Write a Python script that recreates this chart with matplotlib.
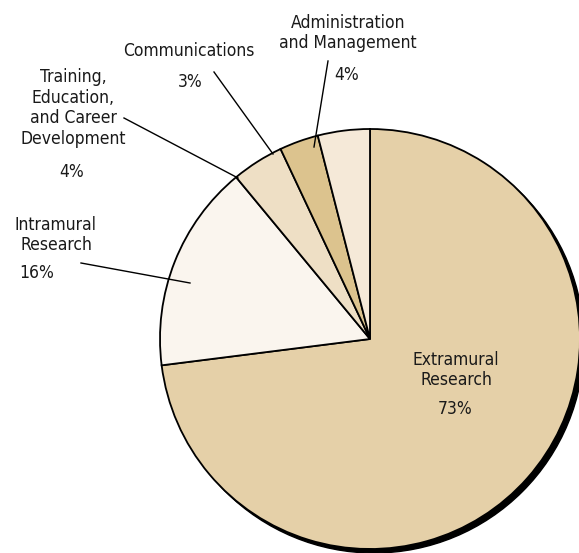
import matplotlib.pyplot as plt
from matplotlib.patches import Circle

# budget shares, clockwise from 12 o'clock
categories = ['Extramural\nResearch', 'Intramural\nResearch',
              'Training,\nEducation,\nand Career\nDevelopment',
              'Communications', 'Administration\nand Management']
shares = [73, 16, 4, 3, 4]
colors = ['#E5D0A8', '#FAF5EE', '#EEDFC5', '#DCC38E', '#F5E9D8']

W, H = 579, 553
fig = plt.figure(figsize=(W / 100, H / 100), dpi=100)
ax = fig.add_axes([0, 0, 1, 1])
ax.set_xlim(0, W)
ax.set_ylim(0, H)
ax.set_aspect('equal')
ax.axis('off')

cx, cy, r = 370, H - 339, 210

# drop shadow
ax.add_patch(Circle((cx + 4, cy - 4), r, color='black', zorder=0))

ax.pie(shares, colors=colors, startangle=90, counterclock=False,
       center=(cx, cy), radius=r, frame=True,
       wedgeprops=dict(edgecolor='black', linewidth=1.3))
ax.set_xlim(0, W)
ax.set_ylim(0, H)
ax.axis('off')

fs = 12.5
font = dict(fontsize=fs, color='#1a1a1a', ha='center', va='center',
            linespacing=1.2, fontstretch='condensed')

def y(py):
    return H - py

# labels: (text position px, percent position px)
ax.text(456, y(370), categories[0], **font)
ax.text(455, y(409), f'{shares[0]}%', **font)

ax.text(56, y(235), categories[1], **font)
ax.text(37, y(273), f'{shares[1]}%', **font)

ax.text(73, y(108), categories[2], **font)
ax.text(72, y(172), f'{shares[2]}%', **font)

ax.text(189, y(51), categories[3], **font)
ax.text(190, y(82), f'{shares[3]}%', **font)

ax.text(348, y(33), categories[4], **font)
ax.text(347, y(75), f'{shares[4]}%', **font)

# leader lines
leaders = [((81, 263), (190, 283)),
           ((124, 118), (238, 178)),
           ((214, 72), (273, 154)),
           ((328, 61), (314, 147))]
for (x0, y0), (x1, y1) in leaders:
    ax.plot([x0, x1], [y(y0), y(y1)], color='black', lw=1.0)

fig.savefig('out.png', dpi=100)
